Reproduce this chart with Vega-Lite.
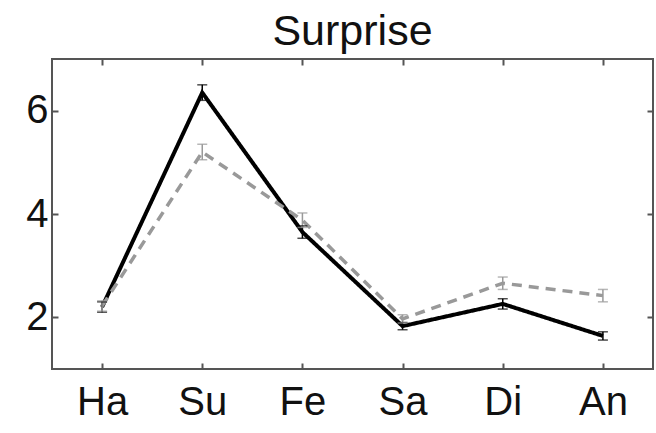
{
  "$schema": "https://vega.github.io/schema/vega-lite/v6.json",
  "width": 601,
  "height": 310,
  "autosize": {"type": "none"},
  "padding": {"left": 52, "top": 59, "right": 3, "bottom": 64},
  "background": "white",
  "title": {
    "text": "Surprise",
    "font": "Liberation Sans",
    "fontSize": 43,
    "fontWeight": "normal",
    "color": "#111",
    "anchor": "middle",
    "baseline": "alphabetic",
    "offset": -30
  },
  "config": {
    "view": {"stroke": "#555555", "strokeWidth": 2},
    "axis": {
      "labelFont": "Liberation Sans",
      "labelFontSize": 40,
      "labelColor": "#111",
      "domain": false,
      "grid": false,
      "tickColor": "#555555",
      "tickWidth": 2,
      "tickSize": -6,
      "minExtent": 0,
      "title": null
    }
  },
  "data": {
    "values": [
      {"emotion": "Ha", "group": "model", "mean": 2.2, "err": 0.1},
      {"emotion": "Su", "group": "model", "mean": 6.35, "err": 0.15},
      {"emotion": "Fe", "group": "model", "mean": 3.65, "err": 0.12},
      {"emotion": "Sa", "group": "model", "mean": 1.83, "err": 0.07},
      {"emotion": "Di", "group": "model", "mean": 2.26, "err": 0.1},
      {"emotion": "An", "group": "model", "mean": 1.64, "err": 0.08},
      {"emotion": "Ha", "group": "human", "mean": 2.22, "err": 0.1},
      {"emotion": "Su", "group": "human", "mean": 5.2, "err": 0.15},
      {"emotion": "Fe", "group": "human", "mean": 3.88, "err": 0.14},
      {"emotion": "Sa", "group": "human", "mean": 1.97, "err": 0.08},
      {"emotion": "Di", "group": "human", "mean": 2.66, "err": 0.12},
      {"emotion": "An", "group": "human", "mean": 2.42, "err": 0.12}
    ]
  },
  "layer": [
    {
      "mark": {"type": "line", "strokeCap": "butt", "strokeJoin": "miter"},
      "encoding": {
        "x": {
          "field": "emotion",
          "type": "ordinal",
          "sort": ["Ha", "Su", "Fe", "Sa", "Di", "An"],
          "scale": {"type": "point", "padding": 0.5},
          "axis": {"orient": "bottom", "labelAngle": 0, "labelPadding": 19}
        },
        "y": {
          "field": "mean",
          "type": "quantitative",
          "scale": {"domain": [1, 7], "nice": false, "zero": false},
          "axis": {"orient": "left", "values": [2, 4, 6], "labelPadding": 10}
        },
        "detail": {"field": "group"},
        "color": {"field": "group", "type": "nominal", "scale": {"domain": ["human", "model"], "range": ["#999999", "#000000"]}, "legend": null},
        "strokeWidth": {"field": "group", "type": "nominal", "scale": {"domain": ["human", "model"], "range": [3.5, 4]}, "legend": null},
        "strokeDash": {"field": "group", "type": "nominal", "scale": {"domain": ["human", "model"], "range": [[10, 7], [1, 0]]}, "legend": null}
      }
    },
    {
      "mark": {"type": "rule", "strokeWidth": 1.5},
      "transform": [
        {"calculate": "datum.mean - datum.err", "as": "lo"},
        {"calculate": "datum.mean + datum.err", "as": "hi"}
      ],
      "encoding": {
        "x": {"field": "emotion", "type": "ordinal", "sort": ["Ha", "Su", "Fe", "Sa", "Di", "An"], "axis": null},
        "y": {"field": "lo", "type": "quantitative", "axis": null},
        "y2": {"field": "hi"},
        "color": {"field": "group", "type": "nominal", "legend": null}
      }
    },
    {
      "mark": {"type": "tick", "thickness": 1.5, "size": 10},
      "transform": [{"calculate": "datum.mean + datum.err", "as": "hi"}],
      "encoding": {
        "x": {"field": "emotion", "type": "ordinal", "sort": ["Ha", "Su", "Fe", "Sa", "Di", "An"], "axis": null},
        "y": {"field": "hi", "type": "quantitative", "axis": null},
        "color": {"field": "group", "type": "nominal", "legend": null}
      }
    },
    {
      "mark": {"type": "tick", "thickness": 1.5, "size": 10},
      "transform": [{"calculate": "datum.mean - datum.err", "as": "lo"}],
      "encoding": {
        "x": {"field": "emotion", "type": "ordinal", "sort": ["Ha", "Su", "Fe", "Sa", "Di", "An"], "axis": null},
        "y": {"field": "lo", "type": "quantitative", "axis": null},
        "color": {"field": "group", "type": "nominal", "legend": null}
      }
    },
    {
      "mark": {"type": "point", "opacity": 0},
      "encoding": {
        "x": {"field": "emotion", "type": "ordinal", "sort": ["Ha", "Su", "Fe", "Sa", "Di", "An"], "axis": {"orient": "top", "labels": false, "ticks": true, "tickSize": -6, "tickColor": "#555555"}},
        "y": {"field": "mean", "type": "quantitative", "axis": {"orient": "right", "values": [2, 4, 6], "labels": false, "ticks": true, "tickSize": -6, "tickColor": "#555555"}}
      }
    }
  ],
  "resolve": {"axis": {"x": "independent", "y": "independent"}}
}
